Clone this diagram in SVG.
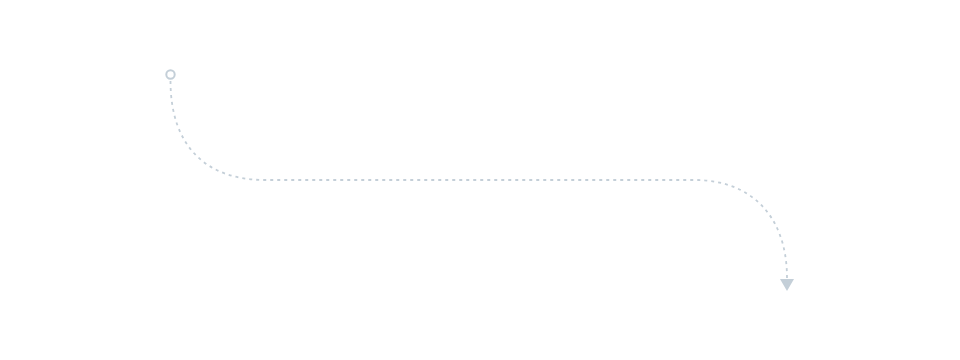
<svg xmlns="http://www.w3.org/2000/svg" width="960" height="360" viewBox="0 0 960 360">
<defs>
<style>
.conn{fill:none;stroke:#c4cfd8;stroke-width:1.8;stroke-dasharray:3 4}
.dot{fill:#fff;stroke:#c4cfd8;stroke-width:2}
.head{fill:#c4cfd8}
</style>
</defs>
<rect width="960" height="360" fill="#fff"/>
<g id="start"><circle class="dot" cx="170.5" cy="74.5" r="4.2"/></g>
<g id="connectors">
<path class="conn" d="M170.5,81 C170.5,145 205,180 265,180 L695,180 C750,180 787,215 787,278"/>
<polygon class="head" points="780,279 794,279 787,291"/>
</g>
</svg>
